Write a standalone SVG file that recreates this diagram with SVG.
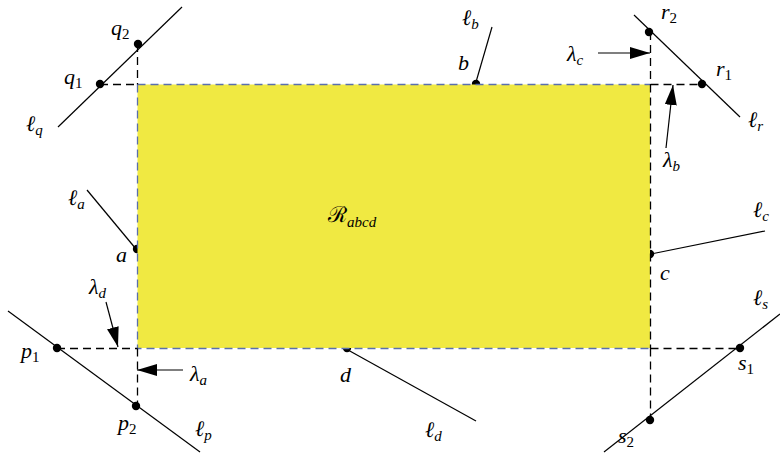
<svg xmlns="http://www.w3.org/2000/svg" width="780" height="458" viewBox="0 0 780 458">
<style>
.ln{stroke:#000;stroke-width:1.2;fill:none}
.dash{stroke:#000;stroke-width:1.3;stroke-dasharray:8 5;fill:none}
.bd{stroke:#5a6fae;stroke-width:1.3;stroke-dasharray:8 5;fill:none}
.dot{fill:#000}
text{font-family:"Liberation Serif","DejaVu Serif",serif;font-style:italic;font-size:22px;fill:#000}
.sub{font-size:15px}
.n{font-size:15px;font-style:normal}
</style>
<defs>
<marker id="ahb" viewBox="0 0 20 12" refX="20" refY="6" markerWidth="20" markerHeight="12" markerUnits="userSpaceOnUse" orient="auto">
<path d="M0,0 L20,6 L0,12 Z" fill="#000"/>
</marker>
</defs>
<g id="b">
<circle class="dot" cx="476" cy="84" r="4.2"/>
<text x="458" y="70">b</text>
<text x="462" y="25">ℓ<tspan class="sub" dy="4">b</tspan></text>
</g>
<g id="a">
<circle class="dot" cx="137" cy="249" r="4.2"/>
<text x="116" y="262">a</text>
<text x="68" y="205">ℓ<tspan class="sub" dy="4">a</tspan></text>
</g>
<g id="c">
<circle class="dot" cx="650" cy="254" r="4.2"/>
<text x="660" y="280">c</text>
<text x="753" y="217">ℓ<tspan class="sub" dy="4">c</tspan></text>
</g>
<g id="d">
<circle class="dot" cx="347" cy="348" r="4.2"/>
<text x="340" y="382">d</text>
<text x="425" y="437">ℓ<tspan class="sub" dy="4">d</tspan></text>
</g>
<g id="region">
<rect x="137.5" y="84.5" width="512.5" height="263.5" fill="#f0e942"/>
<path class="bd" d="M137.5,84.5 H650 M137.5,84.5 V348.5 H650"/>
<text x="328" y="222" font-size="22" style="font-style:normal">ℛ<tspan class="sub" dy="5" font-style="italic">abcd</tspan></text>
</g>
<g id="connectors">
<path class="dash" d="M100,84.5 H137.5 M650.5,84.5 H702"/>
<path class="dash" d="M57,348.5 H137.5 M650.5,348.5 H741"/>
<path class="dash" d="M137.5,44 V84.5 M137.5,348.5 V406"/>
<path class="dash" d="M650.5,32 V84.5 M650.5,84.5 V348.5 M650.5,348.5 V420"/>
<line class="ln" x1="58" y1="127" x2="182" y2="7"/>
<line class="ln" x1="634" y1="15" x2="740" y2="117"/>
<line class="ln" x1="8" y1="311" x2="200" y2="452"/>
<line class="ln" x1="780" y1="314" x2="604" y2="452"/>
<line class="ln" x1="87" y1="190" x2="136" y2="249"/>
<line class="ln" x1="492" y1="27" x2="476" y2="82"/>
<line class="ln" x1="765" y1="231" x2="651" y2="254"/>
<line class="ln" x1="348" y1="350" x2="476" y2="421"/>
<line class="ln" x1="598" y1="53" x2="650" y2="53" marker-end="url(#ahb)"/>
<line class="ln" x1="666" y1="148" x2="673" y2="85" marker-end="url(#ahb)"/>
<line class="ln" x1="106" y1="302" x2="118" y2="347" marker-end="url(#ahb)"/>
<line class="ln" x1="183" y1="370" x2="137" y2="370" marker-end="url(#ahb)"/>
</g>
<g id="q">
<circle class="dot" cx="100" cy="84" r="4.2"/><circle class="dot" cx="138" cy="44" r="4.2"/>
<text x="64" y="84">q<tspan class="n" dy="4">1</tspan></text>
<text x="111" y="35">q<tspan class="n" dy="4">2</tspan></text>
<text x="26" y="131">ℓ<tspan class="sub" dy="4">q</tspan></text>
</g>
<g id="r">
<circle class="dot" cx="649" cy="32" r="4.2"/><circle class="dot" cx="702" cy="84" r="4.2"/>
<text x="661" y="19">r<tspan class="n" dy="4">2</tspan></text>
<text x="716" y="76">r<tspan class="n" dy="4">1</tspan></text>
<text x="748" y="127">ℓ<tspan class="sub" dy="4">r</tspan></text>
<text x="567" y="61">λ<tspan class="sub" dy="4">c</tspan></text>
<text x="663" y="167">λ<tspan class="sub" dy="4">b</tspan></text>
</g>
<g id="p">
<circle class="dot" cx="57" cy="348" r="4.2"/><circle class="dot" cx="136" cy="406" r="4.2"/>
<text x="21" y="358">p<tspan class="n" dy="4">1</tspan></text>
<text x="118" y="430">p<tspan class="n" dy="4">2</tspan></text>
<text x="195" y="436">ℓ<tspan class="sub" dy="4">p</tspan></text>
<text x="89" y="294">λ<tspan class="sub" dy="4">d</tspan></text>
<text x="190" y="381">λ<tspan class="sub" dy="4">a</tspan></text>
</g>
<g id="s">
<circle class="dot" cx="740" cy="348" r="4.2"/><circle class="dot" cx="650" cy="420" r="4.2"/>
<text x="738" y="370">s<tspan class="n" dy="4">1</tspan></text>
<text x="618" y="443">s<tspan class="n" dy="4">2</tspan></text>
<text x="753" y="305">ℓ<tspan class="sub" dy="4">s</tspan></text>
</g>
</svg>
